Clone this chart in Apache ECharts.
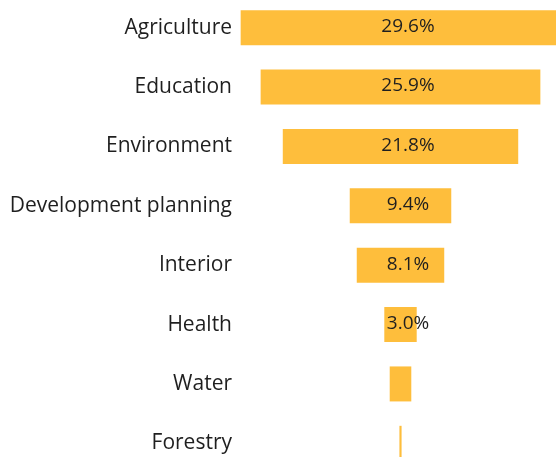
<!DOCTYPE html>
<html>
<head>
<meta charset="utf-8">
<script src="https://cdn.jsdelivr.net/npm/echarts@6/dist/echarts.min.js"></script>
<style>
  html, body { margin: 0; padding: 0; background: #fff; }
  #chart { width: 556px; height: 457px; }
</style>
</head>
<body>
<div id="chart"></div>
<script>
const sectors = ['Agriculture', 'Education', 'Environment', 'Development planning', 'Interior', 'Health', 'Water', 'Forestry'];
const shares = [29.6, 25.9, 21.8, 9.4, 8.1, 3.0, 2.0, 0.2];
const shareLabels = ['29.6%', '25.9%', '21.8%', '9.4%', '8.1%', '3.0%', '', ''];

const axisSpan = 30;
const mid = axisSpan / 2;

const chart = echarts.init(document.getElementById('chart'));

// invisible offset so each bar sits centred on the middle line
const offsets = shares.map(v => mid - v / 2);

const font = '"Open Sans", Lato, sans-serif';

chart.setOption({
    animation: false,
    grid: {
        left: 238.5, width: 324, top: -2, height: 475,
        containLabel: false,
        outerBoundsMode: 'none'
    },
    xAxis: {
        type: 'value',
        min: 0,
        max: axisSpan,
        show: false
    },
    yAxis: {
        type: 'category',
        data: sectors,
        inverse: true,
        axisLine: { show: false },
        axisTick: { show: false },
        axisLabel: {
            margin: 6.5,
            color: '#1f1f1f',
            fontSize: 21,
            fontFamily: font
        }
    },
    series: [
        {
            type: 'bar',
            stack: 'funnel',
            data: offsets,
            barWidth: 35,
            itemStyle: { color: 'transparent' },
            silent: true
        },
        {
            type: 'bar',
            stack: 'funnel',
            data: shares,
            barWidth: 35,
            itemStyle: { color: '#febe3c' },
            label: {
                show: true,
                position: 'inside',
                offset: [7.5, -1],
                color: '#1f1f1f',
                fontSize: 19,
                fontFamily: font,
                formatter: p => shareLabels[p.dataIndex]
            }
        }
    ]
});
</script>
</body>
</html>
